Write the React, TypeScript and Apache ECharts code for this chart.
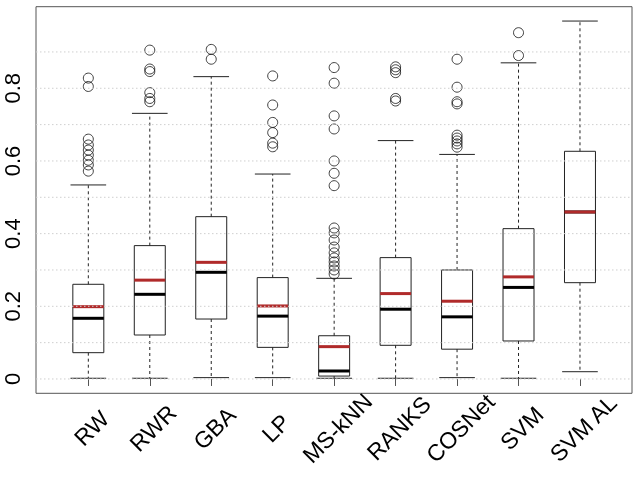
import React, { useEffect, useRef } from 'react';
import * as echarts from 'echarts';

const categories = ['RW', 'RWR', 'GBA', 'LP', 'MS-kNN', 'RANKS', 'COSNet', 'SVM', 'SVM AL'];
const lowerWhisker = [0.002, 0.002, 0.0037, 0.0037, 0.002, 0.002, 0.0037, 0.002, 0.02];
const q1Values = [0.0724, 0.121, 0.165, 0.087, 0.008, 0.0927, 0.082, 0.1046, 0.265];
const medianValues = [0.167, 0.233, 0.2936, 0.173, 0.022, 0.192, 0.171, 0.252, 0.4596];
const q3Values = [0.2606, 0.367, 0.4467, 0.279, 0.119, 0.334, 0.3, 0.4137, 0.6266];
const upperWhisker = [0.534, 0.731, 0.832, 0.564, 0.277, 0.656, 0.618, 0.87, 0.985];
const meanValues = [0.199, 0.272, 0.321, 0.201, 0.089, 0.235, 0.214, 0.281, 0.4596];
const outlierValues = [
  [0.828, 0.805, 0.66, 0.644, 0.63, 0.616, 0.602, 0.589, 0.572],
  [0.905, 0.853, 0.846, 0.788, 0.772, 0.763],
  [0.907, 0.88],
  [0.834, 0.754, 0.706, 0.678, 0.649, 0.639],
  [0.857, 0.814, 0.724, 0.688, 0.6, 0.566, 0.532, 0.4155, 0.402, 0.3825, 0.363, 0.347, 0.333, 0.322, 0.311, 0.3, 0.289],
  [0.859, 0.851, 0.843, 0.772, 0.765],
  [0.88, 0.803, 0.763, 0.757, 0.671, 0.663, 0.655, 0.647, 0.638],
  [0.953, 0.89],
  [],
];
const yTickLabels = [0, 0.2, 0.4, 0.6, 0.8];
const gridValues = [0, 0.1, 0.2, 0.3, 0.4, 0.5, 0.6, 0.7, 0.8, 0.9];

const Y_MIN = -0.0394;
const Y_MAX = 1.0245;
const FONT = 'Liberation Sans, Arial, Helvetica, sans-serif';

export default function App() {
  const ref = useRef<HTMLDivElement>(null);
  useEffect(() => {
    if (!ref.current) return;
    const chart = echarts.init(ref.current, null, { renderer: 'svg' });
    const boxData = categories.map((_, i) => [
      i,
      lowerWhisker[i],
      q1Values[i],
      medianValues[i],
      q3Values[i],
      upperWhisker[i],
      meanValues[i],
    ]);
    const outlierData: number[][] = [];
    outlierValues.forEach((arr, i) => arr.forEach((v) => outlierData.push([i, v])));

    const boxRatio = 0.504;
    const capRatio = 0.58;
    const dark = '#222';

    chart.setOption({
      animation: false,
      grid: [
        {
          left: 36,
          right: 8,
          top: 6.7,
          bottom: 86.7,
          show: true,
          borderColor: '#555',
          borderWidth: 1,
          backgroundColor: 'transparent',
        },
        {
          left: 57.6,
          right: 29.3,
          top: 6.7,
          bottom: 86.7,
        },
      ],
      xAxis: [
        { gridIndex: 0, type: 'value', min: 0, max: 1, show: false },
        {
          gridIndex: 1,
          type: 'category',
          data: categories,
          boundaryGap: true,
          axisLine: { show: false },
          axisTick: { show: true, alignWithLabel: true, length: 7, lineStyle: { color: '#555', width: 1 } },
          splitLine: { show: false },
          axisLabel: {
            interval: 0,
            rotate: 45,
            fontSize: 23,
            fontFamily: FONT,
            color: '#000',
            align: 'center',
            verticalAlign: 'middle',
            margin: 38,
            padding: [0, 0, 0, 9],
          },
        },
      ],
      yAxis: [
        {
          gridIndex: 0,
          type: 'value',
          min: Y_MIN,
          max: Y_MAX,
          splitNumber: 5,
          axisLine: { show: false },
          axisTick: { show: false },
          splitLine: { show: false },
          axisLabel: {
            show: true,
            rotate: 90,
            fontSize: 22,
            fontFamily: FONT,
            color: '#000',
            margin: 13,
            showMinLabel: false,
            showMaxLabel: false,
            formatter: (v: number) => {
              const t = yTickLabels.find((x) => Math.abs(x - v) < 1e-6);
              return t === undefined ? '' : String(t);
            },
          },
        },
        { gridIndex: 1, type: 'value', min: Y_MIN, max: Y_MAX, show: false },
      ],
      series: [
        {
          type: 'custom',
          name: 'boxes',
          xAxisIndex: 1,
          yAxisIndex: 1,
          z: 2,
          data: boxData,
          renderItem: (params: any, api: any) => {
            const idx = api.value(0);
            const lo = api.coord([idx, api.value(1)]);
            const b1 = api.coord([idx, api.value(2)]);
            const md = api.coord([idx, api.value(3)]);
            const b3 = api.coord([idx, api.value(4)]);
            const hi = api.coord([idx, api.value(5)]);
            const mn = api.coord([idx, api.value(6)]);
            const band = api.size([1, 0])[0];
            const bw = band * boxRatio;
            const cw = band * capRatio;
            const x = lo[0];
            return {
              type: 'group',
              children: [
                {
                  type: 'line',
                  shape: { x1: x, y1: b3[1], x2: x, y2: hi[1] },
                  style: { stroke: dark, lineWidth: 1, lineDash: [3, 3] },
                },
                {
                  type: 'line',
                  shape: { x1: x, y1: b1[1], x2: x, y2: lo[1] },
                  style: { stroke: dark, lineWidth: 1, lineDash: [3, 3] },
                },
                {
                  type: 'line',
                  shape: { x1: x - cw / 2, y1: hi[1], x2: x + cw / 2, y2: hi[1] },
                  style: { stroke: dark, lineWidth: 1 },
                },
                {
                  type: 'line',
                  shape: { x1: x - cw / 2, y1: lo[1], x2: x + cw / 2, y2: lo[1] },
                  style: { stroke: dark, lineWidth: 1 },
                },
                {
                  type: 'rect',
                  shape: { x: x - bw / 2, y: b3[1], width: bw, height: b1[1] - b3[1] },
                  style: { fill: 'rgba(0,0,0,0)', stroke: dark, lineWidth: 1 },
                },
                {
                  type: 'line',
                  shape: { x1: x - bw / 2, y1: md[1], x2: x + bw / 2, y2: md[1] },
                  style: { stroke: '#000', lineWidth: 3 },
                },
                {
                  type: 'line',
                  shape: { x1: x - bw / 2, y1: mn[1], x2: x + bw / 2, y2: mn[1] },
                  style: { stroke: '#b02a2a', lineWidth: 3 },
                },
              ],
            };
          },
        },
        {
          type: 'scatter',
          name: 'outliers',
          xAxisIndex: 1,
          yAxisIndex: 1,
          z: 3,
          symbol: 'circle',
          symbolSize: 10,
          data: outlierData,
          itemStyle: { color: 'rgba(0,0,0,0)', borderColor: '#111', borderWidth: 1 },
        },
        {
          type: 'custom',
          name: 'grid',
          xAxisIndex: 0,
          yAxisIndex: 0,
          z: 5,
          silent: true,
          data: gridValues.map((v) => [0, v]),
          renderItem: (params: any, api: any) => {
            const cs = params.coordSys;
            const y = api.coord([0, api.value(1)])[1];
            return {
              type: 'line',
              shape: { x1: cs.x, y1: y, x2: cs.x + cs.width, y2: y },
              style: { stroke: '#cfcfcf', lineWidth: 1, lineDash: [1.5, 2.5] },
            };
          },
        },
      ],
    });
    return () => chart.dispose();
  }, []);
  return <div ref={ref} style={{ position: 'fixed', left: 0, top: 0, width: 640, height: 480 }} />;
}
